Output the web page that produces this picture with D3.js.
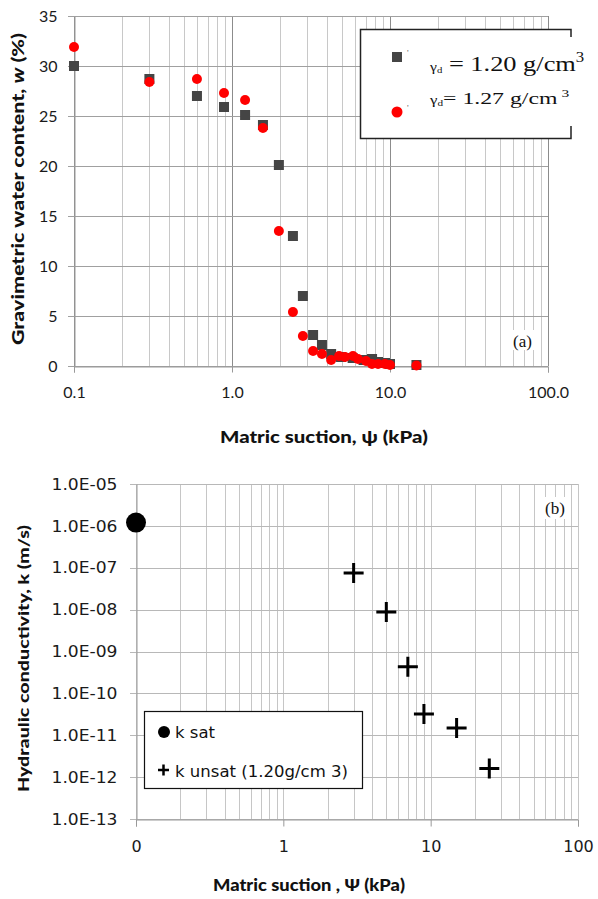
<!DOCTYPE html>
<html>
<head>
<meta charset="utf-8">
<script src="https://cdn.jsdelivr.net/npm/d3@7"></script>
<style>
body { margin: 0; background: #fff; }
svg { display: block; }
.tickA text { font-family: Lato, sans-serif; font-size: 16px; fill: #1a1a1a; }
.tickB text { font-family: "DejaVu Sans", Verdana, sans-serif; font-size: 16px; fill: #1a1a1a; }
.title { font-family: Lato, sans-serif; font-weight: 900; fill: #111; }
</style>
</head>
<body>
<svg width="598" height="899"></svg>
<script>
// (a) water retention data
const suction120 = [0.1, 0.3, 0.6, 0.89, 1.21, 1.57, 1.98, 2.43, 2.81, 3.26, 3.71, 4.24, 4.9, 5.8, 6.8, 7.7, 8.4, 9.3, 10, 14.7];
const water120   = [30.0, 28.7, 27.0, 25.9, 25.1, 24.1, 20.1, 13.0, 7.0, 3.1, 2.1, 1.2, 0.9, 0.8, 0.6, 0.7, 0.4, 0.3, 0.2, 0.1];
const suction127 = [0.1, 0.3, 0.6, 0.89, 1.21, 1.57, 1.98, 2.43, 2.81, 3.26, 3.71, 4.24, 4.76, 5.19, 5.83, 6.27, 7.05, 7.69, 8.4, 9.29, 10, 14.7];
const water127   = [31.9, 28.4, 28.7, 27.3, 26.6, 23.8, 13.5, 5.4, 3.0, 1.5, 1.2, 0.6, 1.0, 0.9, 1.0, 0.7, 0.5, 0.2, 0.2, 0.2, 0.1, 0.05];
const waterTicks = [0, 5, 10, 15, 20, 25, 30, 35];
const suctionTicksA = [0.1, 1, 10, 100];
const suctionLabelsA = ["0.1", "1.0", "10.0", "100.0"];

// (b) hydraulic conductivity data
const satSuction = [0.1];
const satK = [1.2e-6];
const unsatSuction = [3, 5, 7, 9, 15, 25];
const unsatK = [7.5e-8, 8.8e-9, 4.3e-10, 3.2e-11, 1.5e-11, 1.6e-12];
const kTicks = [1e-5, 1e-6, 1e-7, 1e-8, 1e-9, 1e-10, 1e-11, 1e-12, 1e-13];
const kLabels = ["1.0E-05", "1.0E-06", "1.0E-07", "1.0E-08", "1.0E-09", "1.0E-10", "1.0E-11", "1.0E-12", "1.0E-13"];
const suctionTicksB = [0.1, 1, 10, 100];
const suctionLabelsB = ["0", "1", "10", "100"];

const svg = d3.select("svg");
const px = v => Math.round(v) + 0.5;
const isDecade = v => Math.abs(Math.log10(v) - Math.round(Math.log10(v))) < 1e-6;

// ---------- chart (a) ----------
const xA = d3.scaleLog().domain([0.1, 100]).range([74, 548]);
const yA = d3.scaleLinear().domain([0, 35]).range([366, 16]);
const gA = svg.append("g");

gA.selectAll("line.vgrid")
    .data(xA.ticks())
    .enter().append("line")
    .attr("x1", d => px(xA(d))).attr("x2", d => px(xA(d)))
    .attr("y1", yA(35)).attr("y2", yA(0))
    .attr("stroke", d => isDecade(d) ? "#8c8c8c" : "#c8c8c8")
    .attr("stroke-width", 1);

gA.selectAll("line.hgrid")
    .data(waterTicks)
    .enter().append("line")
    .attr("x1", 68).attr("x2", 548)
    .attr("y1", d => px(yA(d))).attr("y2", d => px(yA(d)))
    .attr("stroke", "#a0a0a0");

const axA = gA.append("g")
    .attr("class", "tickA")
    .attr("transform", "translate(0," + px(yA(0)) + ")")
    .call(d3.axisBottom(xA).tickValues(suctionTicksA)
        .tickFormat((d, i) => suctionLabelsA[i]).tickSize(6).tickPadding(14));
axA.select(".domain").attr("stroke", "#999");
axA.selectAll("line").attr("stroke", "#999");

const ayA = gA.append("g")
    .attr("class", "tickA")
    .attr("transform", "translate(" + px(xA(0.1)) + ",0)")
    .call(d3.axisLeft(yA).tickValues(waterTicks).tickSize(0).tickPadding(17));
ayA.select(".domain").attr("stroke", "#999");

gA.selectAll("rect.s120")
    .data(suction120)
    .enter().append("rect")
    .attr("x", d => xA(d) - 5)
    .attr("y", (d, i) => yA(water120[i]) - 5)
    .attr("width", 10).attr("height", 10)
    .attr("fill", "#454545");

gA.selectAll("circle.s127")
    .data(suction127)
    .enter().append("circle")
    .attr("cx", d => xA(d))
    .attr("cy", (d, i) => yA(water127[i]))
    .attr("r", 5)
    .attr("fill", "#ff0000");

// legend (a)
const legA = gA.append("g");
legA.append("rect").attr("x", 360.5).attr("y", 29.5).attr("width", 211).attr("height", 109).attr("fill", "#fff");
legA.append("path")
    .attr("d", "M571,37 V29.5 H360.5 V138.5 H571 V126")
    .attr("fill", "none").attr("stroke", "#222").attr("stroke-width", 1.5);
legA.append("rect").attr("x", 392).attr("y", 52).attr("width", 10).attr("height", 10).attr("fill", "#454545");
legA.append("circle").attr("cx", 397).attr("cy", 112).attr("r", 5.5).attr("fill", "#ff0000");
legA.append("text").attr("x", 407).attr("y", 56).attr("font-size", 9).attr("fill", "#666").text("'");
legA.append("text").attr("x", 407).attr("y", 111).attr("font-size", 9).attr("fill", "#666").text("'");

const t1 = legA.append("text")
    .attr("transform", "translate(430,71) scale(1.2,1)")
    .attr("font-family", "'Liberation Serif', 'Times New Roman', serif")
    .attr("fill", "#111");
t1.append("tspan").attr("font-size", 13).text("γ");
t1.append("tspan").attr("font-size", 9).attr("dy", 2).text("d");
t1.append("tspan").attr("font-size", 22).attr("dy", -2).text(" = 1.20 g/cm");
t1.append("tspan").attr("font-size", 14).attr("dy", -9).text("3");

const t2 = legA.append("text")
    .attr("transform", "translate(430,104) scale(1.4,1)")
    .attr("font-family", "'Liberation Serif', 'Times New Roman', serif")
    .attr("fill", "#111");
t2.append("tspan").attr("font-size", 12).text("γ");
t2.append("tspan").attr("font-size", 8).attr("dy", 2).text("d");
t2.append("tspan").attr("font-size", 17).attr("dy", -2).text("= 1.27 g/cm");
t2.append("tspan").attr("font-size", 11).attr("dy", -7).text(" 3");

gA.append("rect").attr("x", 511).attr("y", 330).attr("width", 27).attr("height", 20).attr("fill", "#fff");
gA.append("text").attr("x", 513).attr("y", 347)
    .attr("font-family", "'Liberation Serif', serif").attr("font-size", 17).attr("fill", "#111")
    .text("(a)");

gA.append("text").attr("class", "title")
    .attr("x", 220).attr("y", 443).attr("font-size", 17)
    .attr("textLength", 208).attr("lengthAdjust", "spacingAndGlyphs")
    .text("Matric suction, ψ (kPa)");

const yTitleA = gA.append("text").attr("class", "title")
    .attr("transform", "translate(24,345) rotate(-90)")
    .attr("font-size", 16)
    .attr("textLength", 312).attr("lengthAdjust", "spacingAndGlyphs");
yTitleA.append("tspan").text("Gravimetric water content, ");
yTitleA.append("tspan").attr("font-style", "italic").text("w");
yTitleA.append("tspan").text(" (%)");

// ---------- chart (b) ----------
const xB = d3.scaleLog().domain([0.1, 100]).range([136, 578]);
const yB = d3.scaleLog().domain([1e-13, 1e-5]).range([819, 484]);
const gB = svg.append("g");

gB.selectAll("line.vgrid")
    .data(xB.ticks())
    .enter().append("line")
    .attr("x1", d => px(xB(d))).attr("x2", d => px(xB(d)))
    .attr("y1", yB(1e-5)).attr("y2", yB(1e-13))
    .attr("stroke", "#c6c6c6");

gB.selectAll("line.hgrid")
    .data(kTicks)
    .enter().append("line")
    .attr("x1", 130).attr("x2", 578)
    .attr("y1", d => px(yB(d))).attr("y2", d => px(yB(d)))
    .attr("stroke", "#b8b8b8");

const axB = gB.append("g")
    .attr("class", "tickB")
    .attr("transform", "translate(0," + px(yB(1e-13)) + ")")
    .call(d3.axisBottom(xB).tickValues(suctionTicksB)
        .tickFormat((d, i) => suctionLabelsB[i]).tickSize(7).tickPadding(14));
axB.select(".domain").attr("stroke", "#999");
axB.selectAll("line").attr("stroke", "#999");
axB.selectAll("text").attr("font-size", 17);

const ayB = gB.append("g")
    .attr("class", "tickB")
    .attr("transform", "translate(" + px(xB(0.1)) + ",0)")
    .call(d3.axisLeft(yB).tickValues(kTicks)
        .tickFormat((d, i) => kLabels[i]).tickSize(0).tickPadding(19));
ayB.select(".domain").attr("stroke", "#999");
ayB.selectAll("text").attr("textLength", 66).attr("lengthAdjust", "spacingAndGlyphs");

gB.selectAll("circle.sat")
    .data(satSuction)
    .enter().append("circle")
    .attr("cx", d => xB(d))
    .attr("cy", (d, i) => yB(satK[i]))
    .attr("r", 10)
    .attr("fill", "#000");

gB.selectAll("path.unsat")
    .data(unsatSuction)
    .enter().append("path")
    .attr("d", (d, i) => {
        const cx = xB(d), cy = yB(unsatK[i]);
        return "M" + (cx - 10) + "," + cy + "H" + (cx + 10) + "M" + cx + "," + (cy - 10) + "V" + (cy + 10);
    })
    .attr("stroke", "#000").attr("stroke-width", 3);

// legend (b)
const legB = gB.append("g");
legB.append("rect").attr("x", 144.5).attr("y", 711.5).attr("width", 218).attr("height", 77)
    .attr("fill", "#fff").attr("stroke", "#111").attr("stroke-width", 1.2);
legB.append("circle").attr("cx", 164).attr("cy", 732).attr("r", 6).attr("fill", "#000");
legB.append("path").attr("d", "M158,770H169M163.5,764.5V775.5").attr("stroke", "#000").attr("stroke-width", 2.5);
legB.append("text").attr("x", 175).attr("y", 738)
    .attr("font-family", "'DejaVu Sans', Verdana, sans-serif").attr("font-size", 15).attr("fill", "#111")
    .attr("textLength", 40).attr("lengthAdjust", "spacingAndGlyphs")
    .text("k sat");
legB.append("text").attr("x", 175).attr("y", 777)
    .attr("font-family", "'DejaVu Sans', Verdana, sans-serif").attr("font-size", 15).attr("fill", "#111")
    .attr("textLength", 173).attr("lengthAdjust", "spacingAndGlyphs")
    .text("k unsat (1.20g/cm 3)");

gB.append("rect").attr("x", 543).attr("y", 497).attr("width", 28).attr("height", 22).attr("fill", "#fff");
gB.append("text").attr("x", 545).attr("y", 514)
    .attr("font-family", "'Liberation Serif', serif").attr("font-size", 17).attr("fill", "#111")
    .text("(b)");

gB.append("text").attr("class", "title")
    .attr("x", 213).attr("y", 891).attr("font-size", 16)
    .attr("textLength", 192).attr("lengthAdjust", "spacingAndGlyphs")
    .text("Matric suction , Ψ (kPa)");

gB.append("text").attr("class", "title")
    .attr("transform", "translate(29,792) rotate(-90)")
    .attr("font-size", 15)
    .attr("textLength", 267).attr("lengthAdjust", "spacingAndGlyphs")
    .text("Hydraulic conductivity, k (m/s)");
</script>
</body>
</html>
